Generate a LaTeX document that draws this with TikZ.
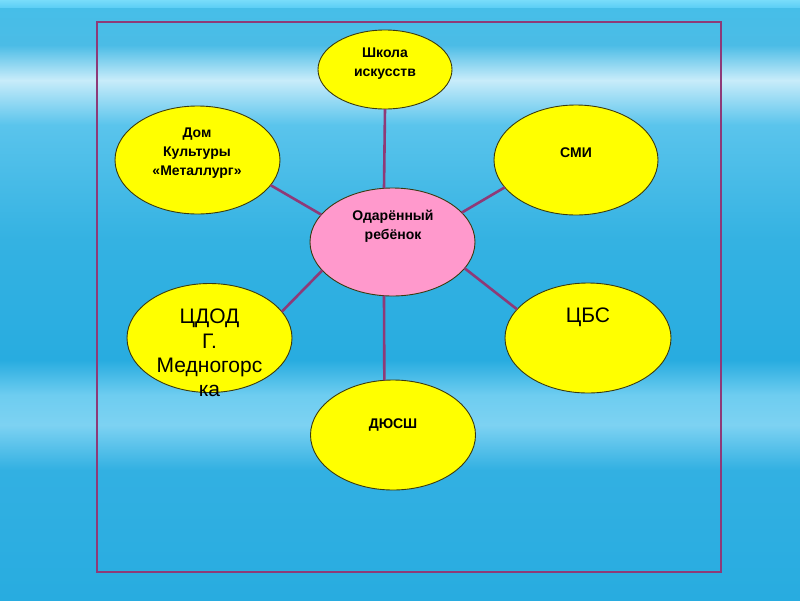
\documentclass[tikz,border=0pt]{standalone}
\usepackage{fontspec}
\setmainfont{Liberation Sans}
\usetikzlibrary{shapes.geometric}
\definecolor{frame}{HTML}{8E3A78}
\definecolor{edge}{HTML}{3A3A10}
\definecolor{yel}{HTML}{FFFF00}
\definecolor{pinkc}{HTML}{FF99CC}
\begin{document}
\begin{tikzpicture}[x=1pt,y=-1pt,
  ell/.style={ellipse,draw=edge,line width=0.9pt,fill=yel,inner sep=0pt,outer sep=0pt},
  lbl/.style={align=center,inner sep=0pt,font=\fontsize{14}{19}\selectfont\bfseries},
  big/.style={align=center,inner sep=0pt,font=\fontsize{21}{24.3}\selectfont},
  conn/.style={draw=frame,line width=2.6pt},
  bgs/.style={draw=none}]
\useasboundingbox (0,0) rectangle (800,600);
% background
\shade[bgs,top color={rgb,255:red,120;green,220;blue,250},bottom color={rgb,255:red,90;green,205;blue,245}] (0,0) rectangle (800,8);
\shade[bgs,top color={rgb,255:red,70;green,190;blue,232},bottom color={rgb,255:red,75;green,188;blue,230}] (0,8) rectangle (800,45);
\shade[bgs,top color={rgb,255:red,75;green,188;blue,230},bottom color={rgb,255:red,200;green,236;blue,250}] (0,45) rectangle (800,80);
\shade[bgs,top color={rgb,255:red,200;green,236;blue,250},bottom color={rgb,255:red,90;green,196;blue,236}] (0,80) rectangle (800,125);
\shade[bgs,top color={rgb,255:red,90;green,196;blue,236},bottom color={rgb,255:red,52;green,178;blue,226}] (0,125) rectangle (800,240);
\shade[bgs,top color={rgb,255:red,52;green,178;blue,226},bottom color={rgb,255:red,40;green,172;blue,224}] (0,240) rectangle (800,360);
\shade[bgs,top color={rgb,255:red,40;green,172;blue,224},bottom color={rgb,255:red,110;green,205;blue,240}] (0,360) rectangle (800,395);
\shade[bgs,top color={rgb,255:red,110;green,205;blue,240},bottom color={rgb,255:red,125;green,210;blue,242}] (0,395) rectangle (800,425);
\shade[bgs,top color={rgb,255:red,125;green,210;blue,242},bottom color={rgb,255:red,50;green,176;blue,226}] (0,425) rectangle (800,470);
\shade[bgs,top color={rgb,255:red,50;green,176;blue,226},bottom color={rgb,255:red,40;green,172;blue,224}] (0,470) rectangle (800,600);
% frame
\draw[draw=frame,line width=2.6pt] (97,22) rectangle (721,572);
% nodes
\node[ell,minimum width=134pt,minimum height=79pt] (shk) at (385,69.5) {};
\node[ell,minimum width=165pt,minimum height=108pt] (dom) at (197.5,160) {};
\node[ell,minimum width=164pt,minimum height=110pt] (smi) at (576,160) {};
\node[ell,fill=pinkc,minimum width=165pt,minimum height=108pt] (c) at (392.5,242) {};
\node[ell,minimum width=165pt,minimum height=109pt] (cdod) at (209.5,338) {};
\node[ell,minimum width=166pt,minimum height=110pt] (cbs) at (588,338) {};
\node[ell,minimum width=165pt,minimum height=110pt] (dus) at (393,435) {};
% texts
\node[lbl] (tshk) at (385,64) {Школа\\искусств};
\node[lbl] (tdom) at (197,153) {Дом\\Культуры\\«Металлург»};
\node[lbl] (tsmi) at (576,153) {СМИ};
\node[lbl] (tc) at (393,226.5) {Одарённый\\ребёнок};
\node[big] (tcdod) at (209.5,353) {ЦДОД\\Г.\\Медногорс\\ка};
\node[big] (tcbs) at (588,317) {ЦБС};
\node[lbl] (tdus) at (393,425) {ДЮСШ};
% connectors
\draw[conn] (shk.south) -- (c.99);
\draw[conn] (c.159) -- (dom.-19);
\draw[conn] (c.23) -- (smi.-159);
\draw[conn] (c.-158) -- (cdod.20);
\draw[conn] (c.-20) -- (cbs.158);
\draw[conn] (c.-99) -- (dus.99);
\end{tikzpicture}
\end{document}
